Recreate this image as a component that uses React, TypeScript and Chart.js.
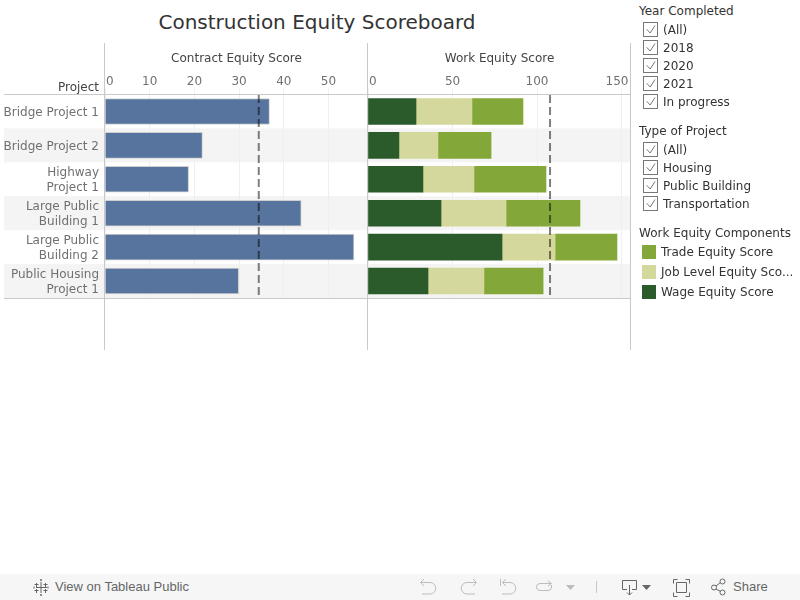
import React, { useEffect, useRef } from "react";
import { Chart, registerables } from "chart.js";

Chart.register(...registerables);

const projects = [
  ["Bridge Project 1"],
  ["Bridge Project 2"],
  ["Highway", "Project 1"],
  ["Large Public", "Building 1"],
  ["Large Public", "Building 2"],
  ["Public Housing", "Project 1"],
];
const contractScore = [36.8, 21.8, 18.7, 43.9, 55.7, 29.9];
const wageScore = [28.4, 18.3, 32.5, 43.2, 79.3, 35.5];
const jobLevelScore = [33.1, 23.1, 30.2, 38.5, 31.4, 33.1];
const tradeScore = [30.2, 31.4, 42.6, 43.7, 36.6, 35.0];
const contractAverage = 34.4;
const workAverage = 107.7;
const yearOptions = ["(All)", "2018", "2020", "2021", "In progress"];
const typeOptions = ["(All)", "Housing", "Public Building", "Transportation"];

const FONT = "'DejaVu Sans'";
const BAND = "#f4f4f4";
const RULE = "#c9c9c9";
const WAGE = "#2b5a2b";
const JOB = "#d5d89c";
const TRADE = "#83a839";
const BLUE = "#57749e";

const makePlugin = (refValue: number, bandLeft: number, bandRight: number, lastTickRight: boolean) => ({
  id: "panel",
  beforeDraw(chart: any) {
    const { ctx, scales } = chart;
    const { x, y } = scales;
    ctx.save();
    ctx.fillStyle = BAND;
    projects.forEach((_, i) => {
      if (i % 2 === 1) {
        const c = y.getPixelForValue(i);
        ctx.fillRect(bandLeft, c - 17, bandRight - bandLeft, 34);
      }
    });
    ctx.restore();
    const items = x.getLabelItems();
    items.forEach((item: any, i: number) => {
      if (i === 0) {
        item.options.textAlign = "left";
        item.options.translation = [x.getPixelForValue(0) + 1, item.options.translation[1]];
      }
      if (lastTickRight && i === items.length - 1) {
        item.options.textAlign = "right";
        item.options.translation = [x.right - 2.5, item.options.translation[1]];
      }
    });
    if (y.options.display) {
      y.getLabelItems().forEach((item: any) => {
        item.options.translation = [item.options.translation[0], item.options.translation[1] + 1];
      });
    }
  },
  afterDraw(chart: any) {
    const { ctx, scales, chartArea } = chart;
    const { x } = scales;
    ctx.save();
    ctx.strokeStyle = RULE;
    ctx.lineWidth = 1;
    ctx.beginPath();
    ctx.moveTo(bandLeft, 94.5);
    ctx.lineTo(bandRight, 94.5);
    ctx.moveTo(bandLeft, 298.5);
    ctx.lineTo(bandRight, 298.5);
    const paneLeft = Math.floor(chartArea.left) - 0.5;
    ctx.moveTo(paneLeft, 43);
    ctx.lineTo(paneLeft, 350);
    if (lastTickRight) {
      ctx.moveTo(bandRight - 0.5, 43);
      ctx.lineTo(bandRight - 0.5, 350);
    }
    ctx.stroke();
    const rx = x.getPixelForValue(refValue);
    ctx.strokeStyle = "rgba(0,0,0,0.5)";
    ctx.lineWidth = 2;
    ctx.setLineDash([8, 4]);
    ctx.beginPath();
    ctx.moveTo(rx, 95);
    ctx.lineTo(rx, 295);
    ctx.stroke();
    ctx.restore();
  },
});

const xAxis = (title: string, max: number, step: number) => ({
  type: "linear",
  position: "top",
  min: 0,
  max,
  title: {
    display: true,
    text: title,
    color: "#444444",
    font: { family: FONT, size: 12 },
    padding: { top: 52, bottom: 0 },
    align: "center",
  },
  ticks: {
    stepSize: step,
    includeBounds: false,
    color: "#707070",
    font: { family: FONT, size: 12 },
    padding: -1,
    maxRotation: 0,
    autoSkip: false,
  },
  grid: { color: "#efefef", tickLength: 6, drawTicks: true, lineWidth: 1 },
  border: { display: false },
  afterFit(scale: any) {
    scale.height = 94.5;
    scale.paddingLeft = 0;
    scale.paddingRight = 0;
  },
});

function useBarChart(build: () => any) {
  const ref = useRef<HTMLCanvasElement>(null);
  useEffect(() => {
    const chart = new Chart(ref.current as HTMLCanvasElement, build());
    return () => chart.destroy();
  }, []);
  return ref;
}

const Check = ({ label, top }: { label: string; top: number }) => (
  <div style={{ position: "absolute", left: 643, top, height: 18, fontSize: 12, lineHeight: "18px", color: "#333" }}>
    <svg width="16" height="16" style={{ position: "absolute", left: 0, top: 1 }}>
      <rect x="0.5" y="0.5" width="14" height="14" fill="#fff" stroke="#777" />
      <path d="M3.7 7.3 L7.2 11 L12 3.5" fill="none" stroke="#777" strokeWidth="1" />
    </svg>
    <span style={{ position: "absolute", left: 20, top: 0, whiteSpace: "nowrap" }}>{label}</span>
  </div>
);

const Swatch = ({ label, top, color }: { label: string; top: number; color: string }) => (
  <div style={{ position: "absolute", left: 642, top, height: 20, width: 158, fontSize: 12, lineHeight: "20px", color: "#333" }}>
    <div style={{ position: "absolute", left: 0, top: 3, width: 14, height: 14, background: color }} />
    <span style={{ position: "absolute", left: 19, top: 0, whiteSpace: "nowrap" }}>{label}</span>
  </div>
);

const Heading = ({ text, top }: { text: string; top: number }) => (
  <div style={{ position: "absolute", left: 639, top, fontSize: 12, lineHeight: "18px", color: "#333", whiteSpace: "nowrap" }}>{text}</div>
);

const ICON = "#bcbcbc";
const DARK = "#666";

const Toolbar = () => (
  <div style={{ position: "absolute", left: 0, top: 574, width: 800, height: 26, background: "#f6f6f6" }}>
    <svg width="800" height="26" style={{ position: "absolute", left: 0, top: 0 }}>
      <g stroke={DARK} fill="none" strokeWidth="1">
        <path d="M41 8v11M36 13.500h11M36.500 9v4M34.500 10.500h4M45.500 9v4M43.500 10.500h4M36.500 15v4M34.500 16.500h4M45.500 15v4M43.500 16.500h4M41 5v2M40 6h2M41 20v2M40 21h2M34 12.500v2M48 12.500v2" />
      </g>
      <g stroke={ICON} fill="none" strokeWidth="1">
        <path d="M421 8.500h9a5.500 5.500 0 0 1 0 11.500h-8M424 5l-3.500 3.500l3.500 3.500" />
        <path d="M476 8.500h-9a5.500 5.500 0 0 0 0 11.500h8M473 5l3.500 3.500l-3.500 3.500" />
        <path d="M500.500 5v7M503 8.500h7a5.500 5.500 0 0 1 0 11.500h-8M506 5l-3.500 3.500l3.500 3.500" />
        <path d="M551 9.500h-11a3.500 3.500 0 0 0 0 7h8a3.500 3.500 0 0 0 3.500 -3.500v-2M548 7l3.500 2.500l-3.500 2.500" />
        <path d="M596.500 7v12" stroke="#c8c8c8" />
      </g>
      <path d="M566 11h9l-4.500 5z" fill={ICON} />
      <g stroke={DARK} fill="none" strokeWidth="1">
        <path d="M622.500 6.500h14v9h-4.500M627 15.500h-4.500v-9M629.500 11v10M627 18.500l2.500 2.500l2.500 -2.500" />
        <path d="M676.500 8.500h10v10h-10zM673.500 9.500v-4h4M685.500 5.500h4v4M689.500 18.500v4h-4M677.500 22.500h-4v-4" />
        <circle cx="714" cy="13.500" r="2.500" />
        <circle cx="722.500" cy="7.500" r="2.500" />
        <circle cx="722.500" cy="18.500" r="2.500" />
        <path d="M716 12l4.500 -3.500M716 15l4.500 2.500" />
      </g>
      <path d="M642 11h9l-4.500 5z" fill={DARK} />
    </svg>
    <span style={{ position: "absolute", left: 55, top: 5, fontFamily: "'Liberation Sans'", fontSize: 13, lineHeight: "16px", color: "#666", whiteSpace: "nowrap" }}>View on Tableau Public</span>
    <span style={{ position: "absolute", left: 733, top: 5, fontFamily: "'Liberation Sans'", fontSize: 13, lineHeight: "16px", color: "#666" }}>Share</span>
  </div>
);

export default function App() {
  const leftRef = useBarChart(() => ({
    type: "bar",
    data: {
      labels: projects,
      datasets: [
        {
          label: "Contract Equity Score",
          data: contractScore,
          backgroundColor: BLUE,
          borderColor: "#cfcfcf",
          borderWidth: 1,
          barThickness: 26,
        },
      ],
    },
    options: {
      indexAxis: "y",
      animation: false,
      responsive: false,
      layout: { padding: { bottom: 52 } },
      plugins: { legend: { display: false }, tooltip: { enabled: false } },
      scales: {
        x: xAxis("Contract Equity Score", 58.84, 10),
        y: {
          type: "category",
          ticks: {
            color: "#707070",
            font: { family: FONT, size: 12, lineHeight: 1.25 },
            padding: 6,
            autoSkip: false,
            crossAlign: "near",
          },
          grid: { display: false, drawTicks: false },
          border: { display: false },
          afterFit(scale: any) {
            scale.width = 105;
            scale.paddingTop = 0;
            scale.paddingBottom = 0;
          },
        },
      },
    },
    plugins: [makePlugin(contractAverage, 4, 368, false)],
  }));

  const rightRef = useBarChart(() => ({
    type: "bar",
    data: {
      labels: projects,
      datasets: [
        { label: "Wage Equity Score", data: wageScore, backgroundColor: WAGE, barThickness: 26 },
        { label: "Job Level Equity Score", data: jobLevelScore, backgroundColor: JOB, barThickness: 26 },
        { label: "Trade Equity Score", data: tradeScore, backgroundColor: TRADE, barThickness: 26 },
      ],
    },
    options: {
      indexAxis: "y",
      animation: false,
      responsive: false,
      layout: { padding: { bottom: 52, left: 1 } },
      plugins: { legend: { display: false }, tooltip: { enabled: false } },
      scales: {
        x: { ...xAxis("Work Equity Score", 155.6, 50), stacked: true },
        y: { type: "category", stacked: true, display: false },
      },
    },
    plugins: [makePlugin(workAverage, 0, 264, true)],
  }));

  return (
    <div style={{ position: "absolute", left: 0, top: 0, width: 800, height: 600, overflow: "hidden", background: "#fff", fontFamily: FONT }}>
      <div style={{ position: "absolute", left: 0, width: 634, top: 8, textAlign: "center", fontSize: 20, lineHeight: "28px", color: "#333" }}>Construction Equity Scoreboard</div>
      <canvas ref={leftRef} width={368} height={350} style={{ position: "absolute", left: 0, top: 0, width: 368, height: 350 }} />
      <canvas ref={rightRef} width={264} height={350} style={{ position: "absolute", left: 367, top: 0, width: 264, height: 350 }} />
      <div style={{ position: "absolute", right: 701, top: 78, fontSize: 12, lineHeight: "18px", color: "#444" }}>Project</div>
      <Heading text="Year Completed" top={2} />
      {yearOptions.map((t, i) => <Check key={t} label={t} top={21 + i * 18} />)}
      <Heading text="Type of Project" top={122} />
      {typeOptions.map((t, i) => <Check key={t} label={t} top={141 + i * 18} />)}
      <Heading text="Work Equity Components" top={224} />
      <Swatch label="Trade Equity Score" top={242} color={TRADE} />
      <Swatch label="Job Level Equity Sco..." top={262} color={JOB} />
      <Swatch label="Wage Equity Score" top={282} color={WAGE} />
      <Toolbar />
    </div>
  );
}
